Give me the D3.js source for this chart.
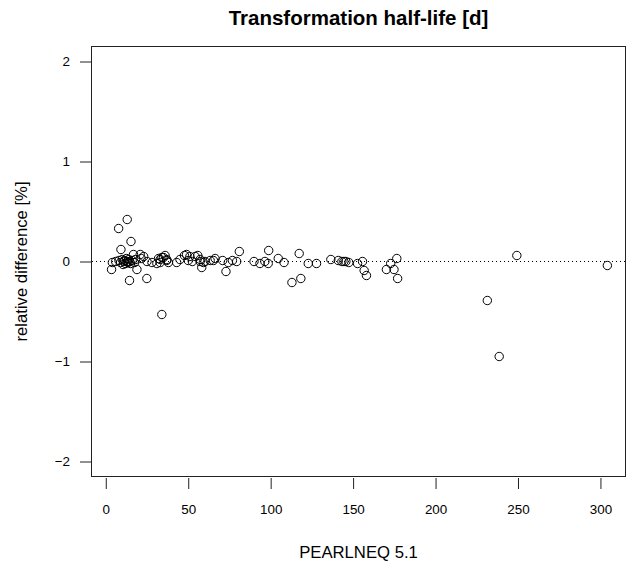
<!DOCTYPE html>
<html><head><meta charset="utf-8">
<script src="https://cdn.jsdelivr.net/npm/d3@7"></script>
<style>body{margin:0;background:#fff}svg{display:block}text{font-family:"Liberation Sans",Arial,sans-serif}</style>
</head><body>
<script>
const titleText = "Transformation half-life [d]";
const xLabel = "PEARLNEQ 5.1";
const yLabel = "relative difference [%]";
const xTicks = [0, 50, 100, 150, 200, 250, 300];
const yTicks = [-2, -1, 0, 1, 2];
const pearlneq = [3.5,4,7.8,9.2,13,15.3,14.4,24.9,18.9,34,
  6,8,9,10,10.5,11,11.5,12,12.5,13,13.5,14,14.5,15,16,16.8,17.5,18,20.9,21.5,23,25,28,31,33,35,36,37,
  32,34,37,33,38,43,45,47.7,49,51,50,52.5,54.2,55.8,57.2,59.2,63.3,
  57.2,58.2,60.2,65.3,66.3,70.9,72.9,74.3,76.8,79.4,81,89.9,93.5,96.5,98.8,98.5,104.6,108.1,112.9,117.3,118.3,122.8,127.8,136.5,141,143.2,144.4,145.6,147.4,152.7,155.7,156.7,158.1,170.2,172.8,174.8,176.5,177,231.4,238.6,249.3,304.2];
const relDiff = [-0.08,-0.01,0.33,0.12,0.42,0.20,-0.19,-0.17,-0.08,-0.53,
  0.0,0.01,-0.01,0.02,-0.03,0.0,0.01,-0.02,0.03,0.0,-0.01,0.02,0.0,-0.02,0.01,0.07,-0.01,0.02,0.07,0.03,0.05,0.0,-0.01,-0.02,0.02,0.04,0.06,0.01,
  0.03,0.04,0.02,-0.01,-0.01,-0.01,0.02,0.06,0.07,0.05,0.01,0.0,0.05,0.06,0.0,-0.01,0.01,
  0.02,-0.06,0.0,0.01,0.03,0.01,-0.10,-0.01,0.01,0.0,0.10,0.0,-0.02,0.0,0.11,-0.02,0.03,-0.01,-0.21,0.08,-0.17,-0.02,-0.02,0.02,0.01,0.0,0.0,0.0,-0.01,-0.02,0.0,-0.09,-0.14,-0.08,-0.02,-0.08,0.03,-0.17,-0.39,-0.95,0.06,-0.04];
const points = pearlneq.map((x, i) => ({x, y: relDiff[i]}));

const W = 630, H = 563;
const box = {l: 91, r: 626, t: 46, b: 477};
const svg = d3.select("body").append("svg").attr("width", W).attr("height", H);

const xs = d3.scaleLinear().domain([-8.96, 315.5]).range([box.l, box.r]);
const ys = d3.scaleLinear().domain([-2.155, 2.155]).range([box.b, box.t]);

// box
svg.append("rect").attr("x", box.l + 0.5).attr("y", box.t + 0.5)
  .attr("width", box.r - box.l - 1).attr("height", box.b - box.t - 1)
  .attr("fill", "none").attr("stroke", "#222").attr("stroke-width", 1);

// x axis
const xAxis = d3.axisBottom(xs).tickValues(xTicks).tickSize(11).tickPadding(15).tickFormat(d3.format("d"));
const gx = svg.append("g").attr("transform", `translate(0,${box.b + 1})`).call(xAxis);
gx.select(".domain").remove();
gx.selectAll("line").attr("stroke", "#222");
gx.selectAll("text").attr("font-size", 13.4).attr("fill", "#000");

// y axis
const yAxis = d3.axisLeft(ys).tickValues(yTicks).tickSize(11).tickPadding(10).tickFormat(d3.format("d"));
const gy = svg.append("g").attr("transform", `translate(${box.l},0)`).call(yAxis);
gy.select(".domain").remove();
gy.selectAll("line").attr("stroke", "#222");
gy.selectAll("text").attr("font-size", 13.4).attr("fill", "#000");

// zero reference line
svg.append("line").attr("x1", box.l + 1).attr("x2", box.r - 1)
  .attr("y1", ys(0)).attr("y2", ys(0))
  .attr("stroke", "#000").attr("stroke-width", 1).attr("stroke-dasharray", "1,3");

// points
svg.append("g").selectAll("circle").data(points).join("circle")
  .attr("cx", d => xs(d.x)).attr("cy", d => ys(d.y)).attr("r", 4.2)
  .attr("fill", "none").attr("stroke", "#000").attr("stroke-width", 1);

// title & labels
svg.append("text").attr("x", (box.l + box.r) / 2).attr("y", 25).attr("text-anchor", "middle")
  .attr("font-size", 20.5).attr("font-weight", "bold").text(titleText);
svg.append("text").attr("x", (box.l + box.r) / 2).attr("y", 557.5).attr("text-anchor", "middle")
  .attr("font-size", 16.7).text(xLabel);
svg.append("text").attr("transform", `translate(27,${(box.t + box.b) / 2}) rotate(-90)`)
  .attr("text-anchor", "middle").attr("font-size", 16.7).text(yLabel);
</script>
</body></html>
